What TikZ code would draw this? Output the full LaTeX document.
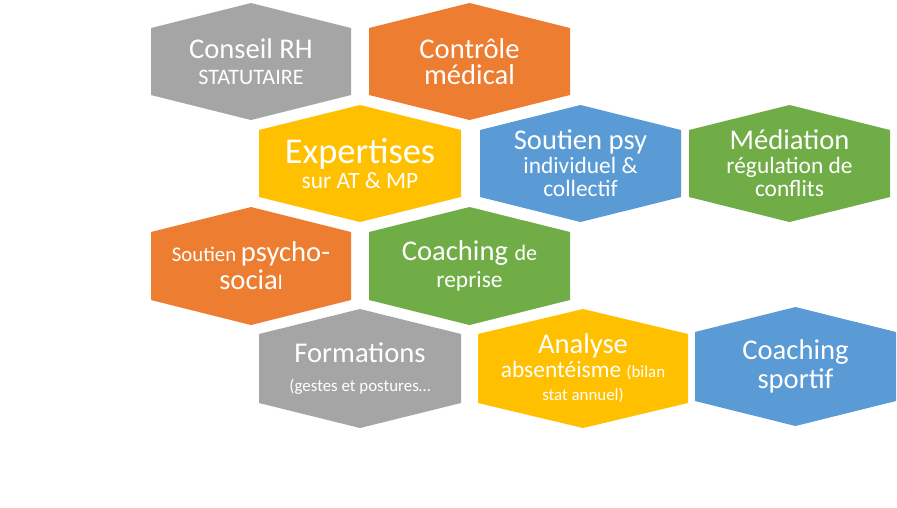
\documentclass[tikz,border=0pt]{standalone}
\usepackage{fontspec}
\setmainfont{Carlito}
\definecolor{cgray}{HTML}{A5A5A5}
\definecolor{corange}{HTML}{ED7D31}
\definecolor{cyellow}{HTML}{FFC000}
\definecolor{cblue}{HTML}{5B9BD5}
\definecolor{cgreen}{HTML}{70AD47}
\newcommand{\hexa}[7]{% name, left, right, top, bottom, color, text
  \fill[#6] (#2,-#4-25) -- ({(#2+#3)/2},-#4) -- (#3,-#4-25) -- (#3,-#5+25) -- ({(#2+#3)/2},-#5) -- (#2,-#5+25) -- cycle;
  \node[txt] (#1) at ({(#2+#3)/2},{-(#4+#5)/2}) {#7};}
\newcommand{\fs}[1]{\fontsize{\fpeval{1.3*#1}}{\fpeval{1.3*#1}}\selectfont}
\begin{document}
\begin{tikzpicture}[x=1pt,y=1pt,txt/.style={text=white,align=center,font=\fs{18},inner sep=0pt}]
\useasboundingbox[fill=white] (0,0) rectangle (897,-507);
\hexa{a}{151}{351}{3}{120}{cgray}{{\fs{22}Conseil RH}\\[3pt]{\fs{17}STATUTAIRE}}
\hexa{b}{369}{570}{3}{120}{corange}{{\fs{22}Contrôle}\\[3pt]{\fs{22}médical}}
\hexa{c}{259}{461}{105}{222}{cyellow}{{\fs{28}Expertises}\\[2pt]{\fs{18}sur AT \& MP}}
\hexa{d}{480}{681}{105}{222}{cblue}{{\fs{22}Soutien psy}\\[0pt]{\fs{18}individuel \&}\\[0pt]{\fs{18}collectif}}
\hexa{e}{689}{890}{105}{222}{cgreen}{{\fs{22}Médiation}\\[0pt]{\fs{18}régulation de}\\[0pt]{\fs{18}conflits}}
\hexa{f}{151}{351}{207}{325}{corange}{{\fs{16}Soutien }{\fs{22}psycho-}\\[3pt]{\fs{22}socia}{\fs{16}l}}
\hexa{g}{369}{570}{207}{325}{cgreen}{{\fs{22}Coaching }{\fs{17}de}\\[3pt]{\fs{18}reprise}}
\hexa{h}{259}{461}{309}{428}{cgray}{{\fs{22}Formations}\\[6pt]{\fs{13}(gestes et postures…}}
\hexa{i}{478}{688}{309}{428}{cyellow}{{\fs{22}Analyse}\\[0pt]{\fs{18}absentéisme }{\fs{13}(bilan}\\[0pt]{\fs{13}stat annuel)}}
\hexa{j}{695}{896}{307}{426}{cblue}{{\fs{22}Coaching}\\[3pt]{\fs{22}sportif}}
\end{tikzpicture}
\end{document}
